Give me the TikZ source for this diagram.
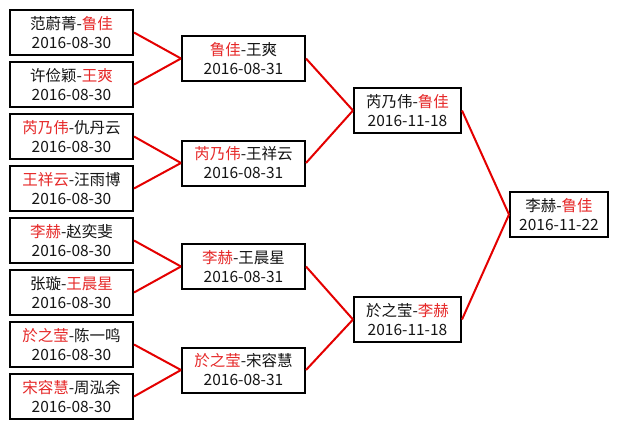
\documentclass[tikz,border=0pt]{standalone}
\usepackage{fontspec}
\setmainfont{Noto Sans CJK SC}
\definecolor{redtxt}{RGB}{230,40,40}
\definecolor{linkred}{RGB}{228,0,0}
\definecolor{txt}{RGB}{20,20,20}
\newcommand{\rd}[1]{\textcolor{redtxt}{#1}}
\begin{document}
\begin{tikzpicture}[x=1pt,y=-1pt,
  box/.style={draw=black, line width=2pt, inner sep=0pt, align=center,
    font=\fontsize{15.5}{19}\selectfont, text=txt},
  wa/.style={box, minimum width=123pt, minimum height=45pt},
  wc/.style={box, minimum width=107pt, minimum height=45pt},
  wd/.style={box, minimum width=98pt, minimum height=45pt},
  link/.style={draw=linkred, line width=2pt}]
\useasboundingbox[fill=white] (0,0) rectangle (619,429);
% round 1
\node[wa] (a1) at (71.5,32.5) {范蔚菁-\rd{鲁佳}\\2016-08-30};
\node[wa] (a2) at (71.5,84.5) {许俭颖-\rd{王爽}\\2016-08-30};
\node[wa] (a3) at (71.5,136.5) {\rd{芮乃伟}-仇丹云\\2016-08-30};
\node[wa] (a4) at (71.5,188.5) {\rd{王祥云}-汪雨博\\2016-08-30};
\node[wa] (a5) at (71.5,240.5) {\rd{李赫}-赵奕斐\\2016-08-30};
\node[wa] (a6) at (71.5,292.5) {张璇-\rd{王晨星}\\2016-08-30};
\node[wa] (a7) at (71.5,344.5) {\rd{於之莹}-陈一鸣\\2016-08-30};
\node[wa] (a8) at (71.5,396.5) {\rd{宋容慧}-周泓余\\2016-08-30};
% round 2
\node[wa] (b1) at (243.5,58.5) {\rd{鲁佳}-王爽\\2016-08-31};
\node[wa] (b2) at (243.5,163) {\rd{芮乃伟}-王祥云\\2016-08-31};
\node[wa] (b3) at (243.5,266.5) {\rd{李赫}-王晨星\\2016-08-31};
\node[wa] (b4) at (243.5,370) {\rd{於之莹}-宋容慧\\2016-08-31};
% round 3
\node[wc] (c1) at (407.5,110.5) {芮乃伟-\rd{鲁佳}\\2016-11-18};
\node[wc] (c2) at (407.5,319.5) {於之莹-\rd{李赫}\\2016-11-18};
% final
\node[wd] (d1) at (559,214.5) {李赫-\rd{鲁佳}\\2016-11-22};
% connectors
\draw[link] (a1.east) -- (b1.west);
\draw[link] (a2.east) -- (b1.west);
\draw[link] (a3.east) -- (b2.west);
\draw[link] (a4.east) -- (b2.west);
\draw[link] (a5.east) -- (b3.west);
\draw[link] (a6.east) -- (b3.west);
\draw[link] (a7.east) -- (b4.west);
\draw[link] (a8.east) -- (b4.west);
\draw[link] (b1.east) -- (c1.west);
\draw[link] (b2.east) -- (c1.west);
\draw[link] (b3.east) -- (c2.west);
\draw[link] (b4.east) -- (c2.west);
\draw[link] (c1.east) -- (d1.west);
\draw[link] (c2.east) -- (d1.west);
\end{tikzpicture}
\end{document}
